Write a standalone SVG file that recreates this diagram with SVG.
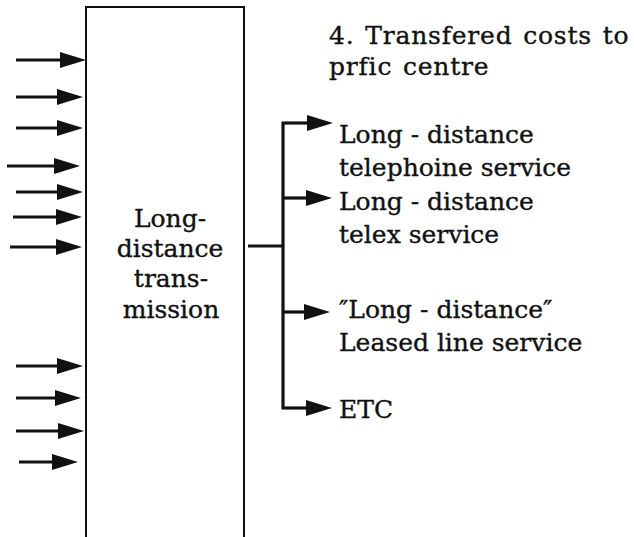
<svg xmlns="http://www.w3.org/2000/svg" width="634" height="537" viewBox="0 0 634 537">
<style>
.t{font-family:"DejaVu Serif","Liberation Serif",serif;font-size:25px;fill:#111;stroke:#111;stroke-width:0.35}
.ti{letter-spacing:0.8px;word-spacing:2px}
.c{stroke:#111;stroke-width:3.2;fill:none}
.box{fill:#fff;stroke:#111;stroke-width:2}
</style>
<defs>
<marker id="ah" markerUnits="userSpaceOnUse" markerWidth="26" markerHeight="16" refX="6" refY="8" orient="auto" overflow="visible">
<path d="M0,0 L26,8 L0,16 z" fill="#111"/>
</marker>
</defs>
<rect width="634" height="537" fill="#fff"/>
<g id="box">
<rect class="box" x="86" y="7" width="158" height="540"/>
<text class="t" text-anchor="middle"><tspan x="170" y="227">Long-</tspan><tspan x="170" y="257">distance</tspan><tspan x="171" y="287">trans-</tspan><tspan x="171" y="318">mission</tspan></text>
</g>
<g id="title">
<text class="t ti" x="329" y="44">4. Transfered costs to</text>
<text class="t ti" x="329" y="75">prfic centre</text>
</g>
<g id="connectors">
<line class="c" x1="16" y1="60" x2="66" y2="60" marker-end="url(#ah)"/>
<line class="c" x1="16" y1="97" x2="63" y2="97" marker-end="url(#ah)"/>
<line class="c" x1="16" y1="128" x2="63" y2="128" marker-end="url(#ah)"/>
<line class="c" x1="7" y1="166" x2="60" y2="166" marker-end="url(#ah)"/>
<line class="c" x1="16" y1="192" x2="63" y2="192" marker-end="url(#ah)"/>
<line class="c" x1="13" y1="217" x2="62" y2="217" marker-end="url(#ah)"/>
<line class="c" x1="10" y1="247" x2="62" y2="247" marker-end="url(#ah)"/>
<line class="c" x1="16" y1="366" x2="63" y2="366" marker-end="url(#ah)"/>
<line class="c" x1="16" y1="398" x2="61" y2="398" marker-end="url(#ah)"/>
<line class="c" x1="16" y1="431" x2="64" y2="431" marker-end="url(#ah)"/>
<line class="c" x1="19" y1="462" x2="58" y2="462" marker-end="url(#ah)"/>
<line class="c" x1="248" y1="246" x2="283" y2="246"/>
<line class="c" x1="283" y1="122" x2="283" y2="409"/>
<line class="c" x1="282" y1="123" x2="313" y2="123" marker-end="url(#ah)"/>
<line class="c" x1="283" y1="198" x2="312" y2="198" marker-end="url(#ah)"/>
<line class="c" x1="283" y1="312" x2="310" y2="312" marker-end="url(#ah)"/>
<line class="c" x1="282" y1="408" x2="312" y2="408" marker-end="url(#ah)"/>
</g>
<g id="out1"><text class="t"><tspan x="339" y="143">Long - distance</tspan><tspan x="339" y="176">telephoine service</tspan></text></g>
<g id="out2"><text class="t"><tspan x="339" y="210">Long - distance</tspan><tspan x="339" y="243">telex service</tspan></text></g>
<g id="out3"><text class="t"><tspan x="339" y="318">″Long - distance″</tspan><tspan x="339" y="351">Leased line service</tspan></text></g>
<g id="out4"><text class="t" x="339" y="418">ETC</text></g>
</svg>
